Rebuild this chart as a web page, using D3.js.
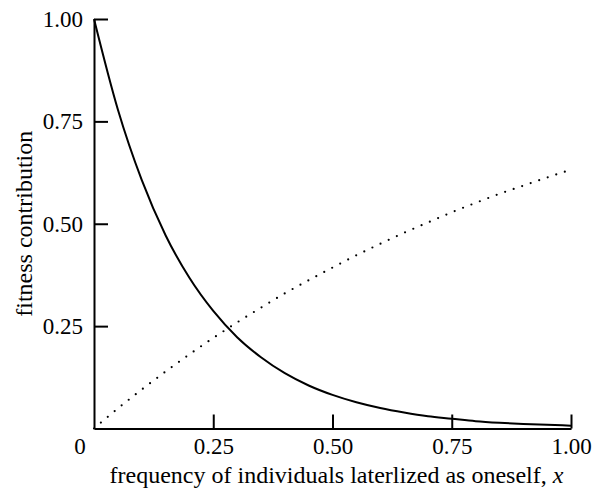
<!DOCTYPE html>
<html>
<head>
<meta charset="utf-8">
<script src="https://cdn.jsdelivr.net/npm/d3@7"></script>
<style>
  html, body { margin: 0; padding: 0; background: #fff; }
  svg text { font-family: 'Liberation Serif', 'Times New Roman', Times, 'DejaVu Serif', serif; }
</style>
</head>
<body>
<svg id="chart" width="598" height="492"></svg>
<script>
// Data
const xValues = [0, 0.05, 0.10, 0.15, 0.20, 0.25, 0.30, 0.35, 0.40, 0.45, 0.50,
                 0.55, 0.60, 0.65, 0.70, 0.75, 0.80, 0.85, 0.90, 0.95, 1.00];
const solidValues = [1.000, 0.779, 0.607, 0.472, 0.368, 0.287, 0.223, 0.174, 0.135, 0.105, 0.082,
                     0.064, 0.050, 0.039, 0.030, 0.024, 0.018, 0.014, 0.011, 0.009, 0.007];
const dottedValues = [0.000, 0.049, 0.095, 0.139, 0.181, 0.221, 0.259, 0.295, 0.330, 0.362, 0.393,
                      0.423, 0.451, 0.478, 0.503, 0.528, 0.551, 0.573, 0.593, 0.613, 0.632];
const xTicks = [0.25, 0.50, 0.75, 1.00];
const xTickLabels = ["0.25", "0.50", "0.75", "1.00"];
const yTicks = [0.25, 0.50, 0.75, 1.00];
const yTickLabels = ["0.25", "0.50", "0.75", "1.00"];
const originLabel = "0";
const xTitle = "frequency of individuals laterlized as oneself, ";
const xTitleVar = "x";
const yTitle = "fitness contribution";

const FONT = "'Liberation Serif', 'Times New Roman', Times, serif";
const svg = d3.select("#chart");
const mLeft = 94, mRight = 571, mTop = 19, mBottom = 428.5;

const x = d3.scaleLinear().domain([0, 1]).range([mLeft, mRight]);
const y = d3.scaleLinear().domain([0, 1]).range([mBottom, mTop]);

// Axes
const xAxis = d3.axisBottom(x)
  .tickValues(xTicks)
  .tickFormat((d, i) => xTickLabels[i])
  .tickSizeInner(-14).tickSizeOuter(0).tickPadding(9);
const yAxis = d3.axisLeft(y)
  .tickValues(yTicks)
  .tickFormat((d, i) => yTickLabels[i])
  .tickSizeInner(-14).tickSizeOuter(0).tickPadding(11);

const gx = svg.append("g").attr("transform", `translate(0,${mBottom})`).call(xAxis);
const gy = svg.append("g").attr("transform", `translate(${mLeft},0)`).call(yAxis);

[gx, gy].forEach(g => {
  g.attr("font-family", FONT).attr("font-size", 23);
  g.select(".domain").attr("stroke", "#000").attr("stroke-width", 2);
  g.selectAll(".tick line").attr("stroke", "#000").attr("stroke-width", 2);
  g.selectAll(".tick text").attr("fill", "#000")
    .attr("font-family", FONT).attr("font-size", 23);
});

// origin label
svg.append("text")
  .attr("x", x(0) - 14).attr("y", 454)
  .attr("text-anchor", "middle")
  .attr("font-family", FONT).attr("font-size", 23)
  .text(originLabel);

// Lines
const ptsSolid = xValues.map((v, i) => [v, solidValues[i]]);
const ptsDot = xValues.map((v, i) => [v, dottedValues[i]]);
const line = d3.line().x(d => x(d[0])).y(d => y(d[1])).curve(d3.curveMonotoneX);

svg.append("path").attr("d", line(ptsSolid))
  .attr("fill", "none").attr("stroke", "#000").attr("stroke-width", 2);

svg.append("path").attr("d", line(ptsDot))
  .attr("fill", "none").attr("stroke", "#000").attr("stroke-width", 2.2)
  .attr("stroke-linecap", "round").attr("stroke-dasharray", "0 9");

// Titles
const xt = svg.append("text")
  .attr("x", (mLeft + mRight) / 2 + 4).attr("y", 483)
  .attr("text-anchor", "middle")
  .attr("font-family", FONT).attr("font-size", 24);
xt.append("tspan").text(xTitle);
xt.append("tspan").attr("font-style", "italic").text(xTitleVar);

svg.append("text")
  .attr("transform", `translate(32,${(mTop + mBottom) / 2}) rotate(-90)`)
  .attr("text-anchor", "middle")
  .attr("font-family", FONT).attr("font-size", 24)
  .text(yTitle);
</script>
</body>
</html>
